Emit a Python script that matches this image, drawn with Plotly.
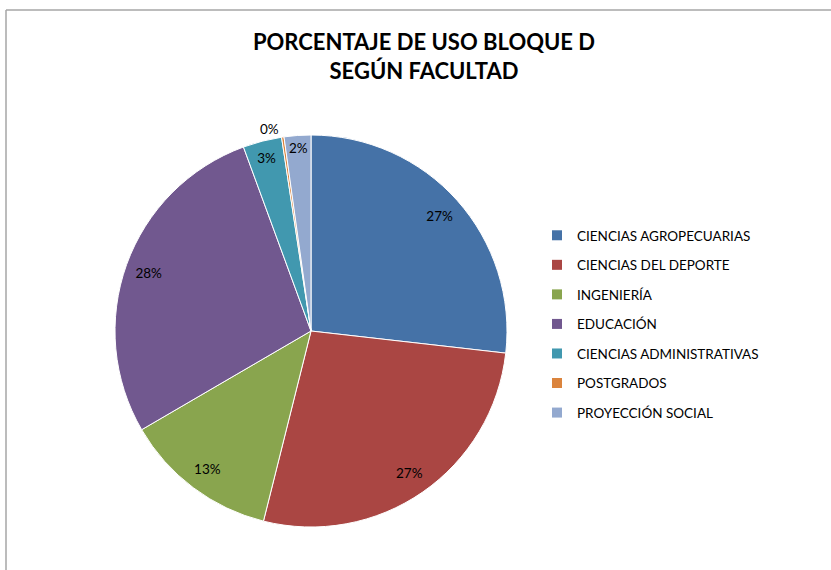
import plotly.graph_objects as go

categories = ["CIENCIAS AGROPECUARIAS", "CIENCIAS DEL DEPORTE", "INGENIERÍA", "EDUCACIÓN",
              "CIENCIAS ADMINISTRATIVAS", "POSTGRADOS", "PROYECCIÓN SOCIAL"]
values = [26.8, 27.1, 12.7, 27.8, 3.2, 0.2, 2.2]
colors = ["#4572A7", "#AA4643", "#89A54E", "#71588F", "#4198AF", "#DB843D", "#93A9CF"]
text_positions = ["inside", "inside", "inside", "inside", "inside", "outside", "inside"]

W, H = 831, 570
FONT = "Lato, Calibri, sans-serif"
CX, CY, R = 311, 331, 196
dom = dict(x=[(CX - R) / W, (CX + R) / W], y=[(H - CY - R) / H, (H - CY + R) / H])

fig = go.Figure()
# filled pie
fig.add_trace(go.Pie(
    labels=categories, values=values, sort=False, direction="clockwise", rotation=0,
    marker=dict(colors=colors, line=dict(color="white", width=1)),
    textinfo="none", showlegend=False, hoverinfo="label+percent", domain=dom,
))
# transparent ring carrying the data labels near the rim
fig.add_trace(go.Pie(
    labels=categories, values=values, sort=False, direction="clockwise", rotation=0, hole=0.76,
    marker=dict(colors=["rgba(0,0,0,0)"] * len(values), line=dict(width=0)),
    texttemplate="%{percent:.0%}", textposition=text_positions,
    insidetextorientation="horizontal",
    textfont=dict(family=FONT, size=13.5, color="#000000"),
    showlegend=False, hoverinfo="skip", domain=dom,
))
for name, col in zip(categories, colors):
    fig.add_trace(go.Scatter(x=[None], y=[None], mode="markers", name=name, legendgroup=name,
                             marker=dict(symbol="square", size=10, color=col)))

border = dict(color="#A6A6A6", width=1.5)
fig.update_layout(
    width=W, height=H, margin=dict(l=0, r=0, t=0, b=0),
    paper_bgcolor="white", plot_bgcolor="white",
    xaxis=dict(visible=False), yaxis=dict(visible=False),
    uniformtext=dict(minsize=13.5, mode="show"),
    title=dict(text="<b>PORCENTAJE DE USO BLOQUE D<br>SEGÚN FACULTAD</b>", x=424 / W, xanchor="center",
               y=1 - 50 / H, yanchor="top", font=dict(family=FONT, size=22, color="#000000")),
    legend=dict(x=537 / W, y=1 - 220 / H, xanchor="left", yanchor="top", tracegroupgap=9,
                font=dict(family=FONT, size=13.5, color="#000000"), bgcolor="rgba(0,0,0,0)"),
    shapes=[
        dict(type="line", xref="paper", yref="paper", x0=6 / W, x1=6 / W, y0=0, y1=1 - 10 / H,
             line=border, layer="above"),
        dict(type="line", xref="paper", yref="paper", x0=6 / W, x1=1, y0=1 - 10 / H, y1=1 - 10 / H,
             line=border, layer="above"),
    ],
)
fig.write_html("out.html", config={"displayModeBar": False},
               post_script="document.body.style.margin='0';")
